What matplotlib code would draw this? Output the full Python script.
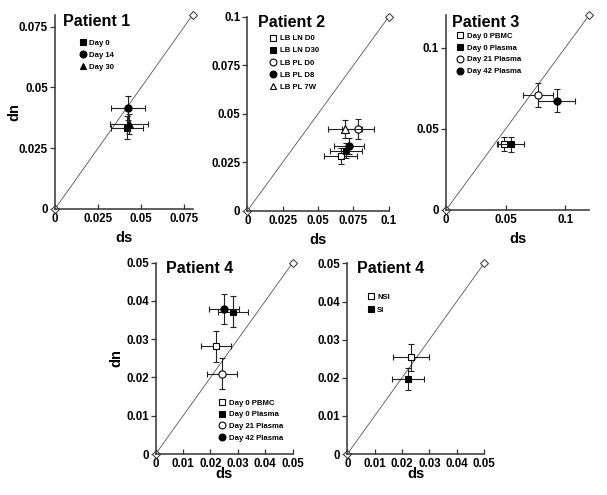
import matplotlib.pyplot as plt
from matplotlib.lines import Line2D

plt.rcParams['font.family'] = ['Liberation Sans', 'DejaVu Sans']
plt.rcParams['font.weight'] = 'bold'

# Patient 1
p1_labels = ['Day 0', 'Day 14', 'Day 30']
p1_ds = [0.0419, 0.0425, 0.0429]
p1_dn = [0.0335, 0.0415, 0.0349]
p1_ds_err = [0.0092, 0.0099, 0.0109]
p1_dn_err = [0.0047, 0.0051, 0.0040]
p1_ticks = [0, 0.025, 0.05, 0.075]
p1_ticklabels = ['0', '0.025', '0.05', '0.075']

# Patient 2
p2_labels = ['LB LN D0', 'LB LN D30', 'LB PL D0', 'LB PL D8', 'LB PL 7W']
p2_ds = [0.0660, 0.0698, 0.0785, 0.0719, 0.0691]
p2_dn = [0.0284, 0.0310, 0.0421, 0.0333, 0.0421]
p2_ds_err = [0.0115, 0.0115, 0.0112, 0.0104, 0.0118]
p2_dn_err = [0.0040, 0.0040, 0.0050, 0.0040, 0.0047]
p2_ticks = [0, 0.025, 0.05, 0.075, 0.1]
p2_ticklabels = ['0', '0.025', '0.05', '0.075', '0.1']

# Patient 3
p3_labels = ['Day 0 PBMC', 'Day 0 Plasma', 'Day 21 Plasma', 'Day 42 Plasma']
p3_ds = [0.0490, 0.0546, 0.0775, 0.0929]
p3_dn = [0.0406, 0.0404, 0.0709, 0.0674]
p3_ds_err = [0.0059, 0.0109, 0.0126, 0.0157]
p3_dn_err = [0.0041, 0.0046, 0.0072, 0.0072]
p3_ticks = [0, 0.05, 0.1]
p3_ticklabels = ['0', '0.05', '0.1']

# Patient 4 (time points)
p4_labels = ['Day 0 PBMC', 'Day 0 Plasma', 'Day 21 Plasma', 'Day 42 Plasma']
p4_ds = [0.0219, 0.0281, 0.0243, 0.0250]
p4_dn = [0.0281, 0.0372, 0.0210, 0.0379]
p4_ds_err = [0.0055, 0.0055, 0.0055, 0.0055]
p4_dn_err = [0.0040, 0.0040, 0.0040, 0.0040]

# Patient 4 (phenotype)
p5_labels = ['NSI', 'SI']
p5_ds = [0.0233, 0.0223]
p5_dn = [0.0254, 0.0196]
p5_ds_err = [0.0066, 0.0059]
p5_dn_err = [0.0035, 0.0029]

p4_ticks = [0, 0.01, 0.02, 0.03, 0.04, 0.05]
p4_ticklabels = ['0', '0.01', '0.02', '0.03', '0.04', '0.05']

# marker styles
sq_fill = dict(marker='s', mfc='black', ms=4.5)
sq_open = dict(marker='s', mfc='white', ms=4.5)
ci_fill = dict(marker='o', mfc='black', ms=5.2)
ci_open = dict(marker='o', mfc='white', ms=5.2)
tr_fill = dict(marker='^', mfc='black', ms=5.2)
tr_open = dict(marker='^', mfc='white', ms=5.2)


def panel(ax, title, labels, ds, dn, ds_err, dn_err, styles, lim,
          ticks, ticklabels, title_xy, leg_xy, leg_space,
          ylabel=True, ylabelpad=3, xlabelpad=3):
    # neutral line dn = ds
    ax.plot([0, lim], [0, lim], color='#555555', lw=0.6, marker='D', ms=4.5,
            mfc='white', mec='#333333', mew=0.7, clip_on=False, zorder=2)
    for i in range(len(labels)):
        ax.errorbar(ds[i], dn[i], xerr=ds_err[i], yerr=dn_err[i], ls='none',
                    ecolor='#222222', elinewidth=0.8, capsize=2.4, capthick=0.8,
                    mec='black', mew=0.8, zorder=3 + i, **styles[i])
    handles = [Line2D([], [], ls='none', mec='black', mew=0.8, **s) for s in styles]
    ax.legend(handles, labels, loc='upper left', bbox_to_anchor=leg_xy,
              frameon=False, prop={'size': 5.6, 'weight': 'bold'},
              handlelength=1.0, handletextpad=0.35, labelspacing=leg_space,
              borderpad=0, borderaxespad=0, markerscale=0.95)
    ax.text(title_xy[0], title_xy[1], title, transform=ax.transAxes,
            fontsize=11.5, fontweight='heavy', va='baseline', ha='left')
    ax.set_xlim(0, lim)
    ax.set_ylim(0, lim)
    ax.set_xticks(ticks, ticklabels)
    ax.set_yticks(ticks, ticklabels)
    ax.tick_params(labelsize=8.3, width=0.9, length=3.5, color='#333333')
    ax.tick_params(axis='x', direction='in', pad=3)
    ax.tick_params(axis='y', direction='out', pad=1.5)
    for side in ['top', 'right']:
        ax.spines[side].set_visible(False)
    for side in ['left', 'bottom']:
        ax.spines[side].set_linewidth(1.1)
        ax.spines[side].set_color('#333333')
    ax.set_xlabel('ds', fontsize=10.5, fontweight='bold', labelpad=xlabelpad)
    if ylabel:
        ax.set_ylabel('dn', fontsize=10.5, fontweight='bold', labelpad=ylabelpad)


fig = plt.figure(figsize=(6.07, 4.95), dpi=100)
ax1 = fig.add_axes([0.0906, 0.578, 0.227, 0.3925])
ax2 = fig.add_axes([0.4074, 0.574, 0.233, 0.392])
ax3 = fig.add_axes([0.7348, 0.5758, 0.2356, 0.3933])
ax4 = fig.add_axes([0.2565, 0.0828, 0.2257, 0.3865])
ax5 = fig.add_axes([0.5722, 0.0828, 0.2252, 0.385])

panel(ax1, 'Patient 1', p1_labels, p1_ds, p1_dn, p1_ds_err, p1_dn_err,
      [sq_fill, ci_fill, tr_fill], 0.08, p1_ticks, p1_ticklabels,
      (0.058, 0.942), (0.172, 0.873), 0.6, ylabelpad=-1.5, xlabelpad=4)
panel(ax2, 'Patient 2', p2_labels, p2_ds, p2_dn, p2_ds_err, p2_dn_err,
      [sq_open, sq_fill, ci_open, ci_fill, tr_open], 0.1, p2_ticks, p2_ticklabels,
      (0.078, 0.947), (0.156, 0.907), 0.6, ylabel=False, xlabelpad=4)
panel(ax3, 'Patient 3', p3_labels, p3_ds, p3_dn, p3_ds_err, p3_dn_err,
      [sq_open, sq_fill, ci_open, ci_fill], 0.12, p3_ticks, p3_ticklabels,
      (0.04, 0.94), (0.0706, 0.913), 0.57, ylabel=False, xlabelpad=4)
panel(ax4, 'Patient 4', p4_labels, p4_ds, p4_dn, p4_ds_err, p4_dn_err,
      [sq_open, sq_fill, ci_open, ci_fill], 0.05, p4_ticks, p4_ticklabels,
      (0.075, 0.945), (0.458, 0.285), 0.53, ylabelpad=2, xlabelpad=-2)
panel(ax5, 'Patient 4', p5_labels, p5_ds, p5_dn, p5_ds_err, p5_dn_err,
      [sq_open, sq_fill], 0.05, p4_ticks, p4_ticklabels,
      (0.073, 0.948), (0.142, 0.843), 0.75, ylabel=False, xlabelpad=-2)

fig.savefig('out.png', dpi=100)
